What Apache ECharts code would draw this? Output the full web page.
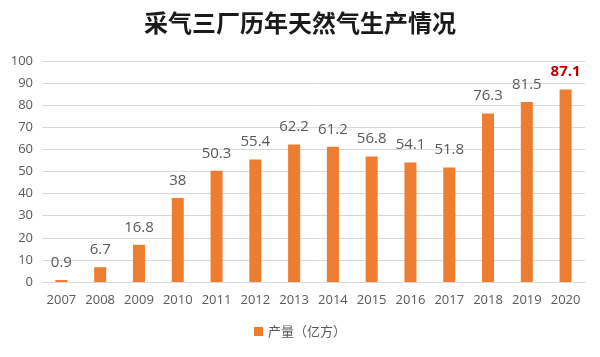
<!DOCTYPE html>
<html><head><meta charset="utf-8">
<script src="https://cdn.jsdelivr.net/npm/echarts@6/dist/echarts.min.js"></script>
<style>html,body{margin:0;padding:0;background:#fff}#c{width:600px;height:357px}</style>
</head><body><div id="c"></div>
<script>
const years = ['2007','2008','2009','2010','2011','2012','2013','2014','2015','2016','2017','2018','2019','2020'];
const output = [0.9, 6.7, 16.8, 38, 50.3, 55.4, 62.2, 61.2, 56.8, 54.1, 51.8, 76.3, 81.5, 87.1];
const yTicks = [0, 10, 20, 30, 40, 50, 60, 70, 80, 90, 100];
const seriesName = '产量（亿方）';
const titleText = '采气三厂历年天然气生产情况';

const chart = echarts.init(document.getElementById('c'));
const last = output.length - 1;
chart.setOption({
  animation: false,
  backgroundColor: '#fff',
  title: {
    text: titleText, left: 'center', top: 6,
    textStyle: {fontFamily: 'Noto Sans CJK SC', fontSize: 24, fontWeight: 'bold', color: '#1a1a1a'}
  },
  legend: {
    data: [seriesName], bottom: 14, left: 'center', itemWidth: 9, itemHeight: 9, icon: 'rect',
    textStyle: {fontFamily: 'Noto Sans CJK SC', fontSize: 13, color: '#595959'}
  },
  grid: {left: 42, right: 15, top: 61, bottom: 75, containLabel: false},
  xAxis: {
    type: 'category', data: years,
    axisLine: {lineStyle: {color: '#d9d9d9'}},
    axisTick: {show: false},
    axisLabel: {color: '#595959', fontSize: 13, fontFamily: 'Open Sans', margin: 12}
  },
  yAxis: {
    type: 'value', min: yTicks[0], max: yTicks[yTicks.length - 1], interval: 10,
    axisLine: {show: false}, axisTick: {show: false},
    splitLine: {lineStyle: {color: '#d9d9d9'}},
    axisLabel: {color: '#595959', fontSize: 13, fontFamily: 'Open Sans', margin: 9}
  },
  series: [{
    name: seriesName, type: 'bar', barWidth: 12,
    itemStyle: {color: '#ED7D31'},
    data: output.map((v, i) => i === last ? {
      value: v,
      label: {color: '#C00000', fontWeight: 'bold'}
    } : v),
    label: {
      show: true, position: 'top', distance: 10,
      color: '#595959', fontSize: 15, fontFamily: 'Open Sans'
    }
  }]
});
</script></body></html>
